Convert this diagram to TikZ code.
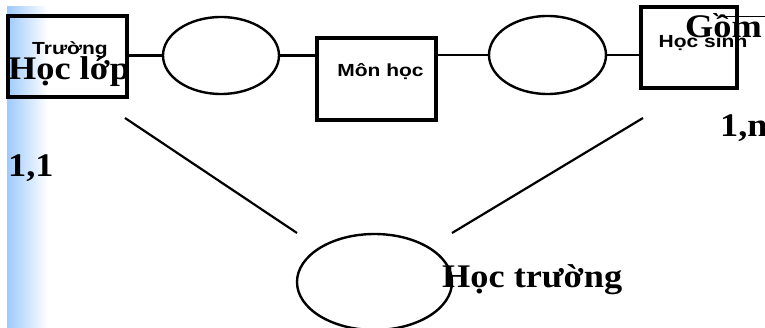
\documentclass[tikz,border=0pt]{standalone}
\usepackage{fontspec}
\setmainfont{Liberation Serif}[FakeStretch=1.1]
\setsansfont{Liberation Sans}[FakeStretch=1.2]
\usepackage{tikz}
\usetikzlibrary{shapes.geometric}
\definecolor{stripblue}{RGB}{158,202,252}
\tikzstyle{entity} = [rectangle, draw=black, line width=3.5pt, inner sep=0pt]
\tikzstyle{relation} = [ellipse, draw=black, line width=2.4pt, inner sep=0pt]
\tikzstyle{bigtext} = [inner sep=0pt, anchor=base west, font=\fontsize{33}{33}\selectfont\bfseries]
\tikzstyle{smalltext} = [inner sep=0pt, anchor=base, font=\fontsize{17.5}{17.5}\selectfont\sffamily\bfseries]
\tikzstyle{line} = [line width=2.2pt,-]

\begin{document}
\begin{tikzpicture}[x=1pt,y=-1pt]
            \useasboundingbox (0,0) rectangle (765,328);
            \shade[left color=stripblue, right color=white] (7,7) rectangle (48,328);
            % top row
            \node (truong) [entity, minimum width=119pt, minimum height=81pt] at (67.5,56.5) {};
            \node (e1) [relation, minimum width=116pt, minimum height=77pt] at (221,55.5) {};
            \node (monhoc) [entity, minimum width=119pt, minimum height=82pt] at (376.5,79) {};
            \node (e2) [relation, minimum width=117pt, minimum height=78pt] at (547.5,55) {};
            \node (hocsinh) [entity, minimum width=96pt, minimum height=81pt] at (689,47.5) {};
            % bottom relation
            \node (e3) [relation, minimum width=155pt, minimum height=96pt] at (374.5,282) {};
            \coordinate (l1a) at (125,118);
            \coordinate (l1b) at (297,233);
            \coordinate (l2a) at (643,118);
            \coordinate (l2b) at (452,233);
            \coordinate (topa) at (723,16);
            \coordinate (topb) at (765,16);
            % texts
            \node (ttruong) [smalltext] at (70,55) {Trường};
            \node (tmonhoc) [smalltext] at (380.5,77) {Môn học};
            \node (thocsinh) [smalltext] at (703,48) {Học sinh};
            \node (lhoclop) [bigtext] at (8,80) {Học lớp};
            \node (lgom) [bigtext] at (685,38) {Gồm};
            \node (lhoctruong) [bigtext] at (442,288) {Học trường};
            \node (c11) [bigtext] at (8,177) {1,1};
            \node (c1n) [bigtext] at (720,137) {1,n};
            % connectors
            \draw [line] (truong.east |- e1) -- (e1.west);
            \draw [line] (e1.east) -- (e1 -| monhoc.west);
            \draw [line] (e2 -| monhoc.east) -- (e2.west);
            \draw [line] (e2.east) -- (e2 -| hocsinh.west);
            \draw [line] (l1a) -- (l1b);
            \draw [line] (l2a) -- (l2b);
            \draw [line width=0.8pt] (topa) -- (topb);
            \end{tikzpicture}
\end{document}
